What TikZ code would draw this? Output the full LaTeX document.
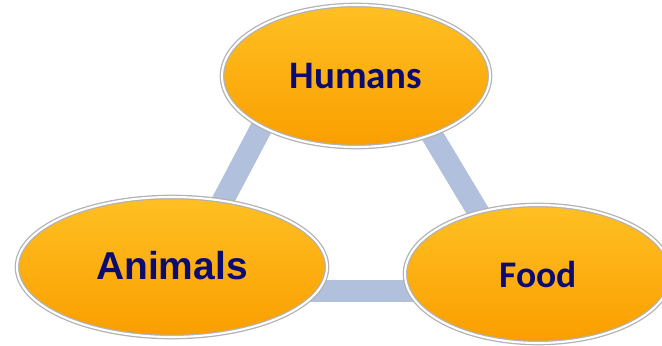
\documentclass[tikz,border=0pt]{standalone}
\usepackage{fontspec}
\newfontfamily\calfont{Carlito}
\newfontfamily\arialfont{Liberation Sans}
\usetikzlibrary{shapes.geometric}
\definecolor{barblue}{RGB}{176,192,221}
\definecolor{labelnavy}{RGB}{12,12,112}
\definecolor{ovaltop}{RGB}{255,192,35}
\definecolor{ovalmid}{RGB}{255,166,6}
\definecolor{ovalbot}{RGB}{250,158,0}
\begin{document}
\begin{tikzpicture}
		\tikzset{oval/.style = {ellipse, inner sep=0pt, draw=gray!60, double=white,
				double distance=1.5pt, line width=0.9pt,
				top color=ovaltop, middle color=ovalmid, bottom color=ovalbot,
				text=labelnavy, font=\bfseries}}
		\tikzset{bar/.style = {line width=15.6pt, barblue}}
		
		\useasboundingbox (0,0) rectangle (16.55,8.625);
		
		\coordinate (l1) at ( 6.9,   6.125);
		\coordinate (l2) at ( 4.7875,2.125);
		\coordinate (r1) at (10.425, 5.875);
		\coordinate (r2) at (12.675, 2.125);
		\coordinate (b1) at ( 6.25,  1.35);
		\coordinate (b2) at (12.0,   1.35);
		
		\draw[bar] (l1) -- (l2);
		\draw[bar] (r1) -- (r2);
		\draw[bar] (b1) -- (b2);
		
		\node[oval, minimum width=6.7cm, minimum height=3.55cm] (hum) at ( 8.9, 6.725)
			{\calfont\fontsize{27.7pt}{30pt}\selectfont Humans};
		\node[oval, minimum width=7.75cm, minimum height=3.5cm] (ani) at ( 4.3, 1.95)
			{\arialfont\fontsize{27.7pt}{30pt}\selectfont\raisebox{3pt}{Animals}};
		\node[oval, minimum width=6.65cm, minimum height=3.45cm] (food) at (13.45, 1.775)
			{\calfont\fontsize{26.7pt}{30pt}\selectfont Food};
		\end{tikzpicture}
\end{document}
